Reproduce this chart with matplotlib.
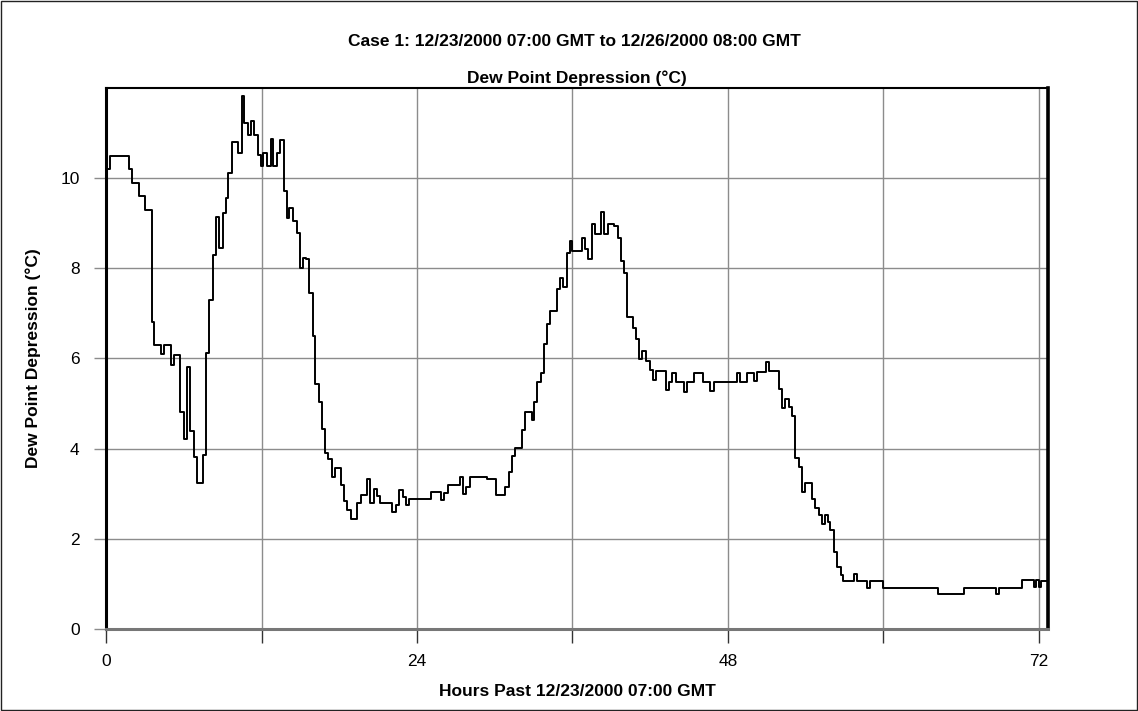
import matplotlib
matplotlib.use('Agg')
import matplotlib.pyplot as plt
from matplotlib.patches import Rectangle

plt.rcParams['font.family'] = ['Liberation Sans', 'DejaVu Sans']

# hours past 12/23/2000 07:00 GMT where the reading changes, and the reading (°C)
hours = [
    0.0, 0.3, 1.77, 2.03, 2.55, 3.0, 3.52, 3.73, 4.24, 4.47, 4.99, 5.25, 5.72, 5.99,
    6.22, 6.48, 6.79, 7.0, 7.51, 7.72, 7.97, 8.28, 8.49, 8.74, 9.0, 9.23, 9.44, 9.75,
    10.21, 10.47, 10.67, 10.98, 11.19, 11.42, 11.7, 11.93, 12.15, 12.43, 12.7, 12.92,
    13.18, 13.45, 13.7, 13.94, 14.15, 14.4, 14.72, 14.95, 15.23, 15.45, 15.68, 15.97,
    16.16, 16.41, 16.67, 16.9, 17.16, 17.42, 17.68, 18.14, 18.37, 18.57, 18.9, 19.4,
    19.65, 20.17, 20.4, 20.66, 20.91, 21.17, 22.1, 22.38, 22.63, 22.92, 23.18, 23.41,
    25.1, 25.85, 26.1, 26.36, 27.3, 27.57, 27.78, 28.09, 29.37, 30.1, 30.83, 31.07,
    31.3, 31.56, 32.07, 32.33, 32.85, 33.05, 33.3, 33.57, 33.82, 34.03, 34.3, 34.8,
    35.06, 35.3, 35.55, 35.78, 36.0, 36.73, 36.98, 37.24, 37.5, 37.74, 38.2, 38.46,
    38.71, 39.23, 39.48, 39.74, 40.0, 40.2, 40.7, 40.9, 41.15, 41.4, 41.7, 41.95,
    42.2, 42.45, 43.2, 43.45, 43.7, 43.97, 44.6, 44.86, 45.4, 46.1, 46.63, 46.93,
    48.7, 48.96, 49.47, 49.99, 50.25, 50.97, 51.2, 51.92, 52.18, 52.4, 52.7, 52.96,
    53.2, 53.47, 53.73, 53.99, 54.5, 54.76, 55.0, 55.3, 55.5, 55.7, 55.9, 56.2,
    56.45, 56.7, 56.9, 57.74, 58.0, 58.7, 58.96, 60.0, 64.2, 66.2, 68.7, 68.95,
    70.7, 71.6, 71.8, 72.0, 72.2, 72.7,
]
depression = [
    10.2, 10.5, 10.2, 9.9, 9.6, 9.3, 6.8, 6.3, 6.1, 6.3, 5.86, 6.08, 4.81, 4.21,
    5.82, 4.38, 3.82, 3.24, 3.85, 6.13, 7.3, 8.3, 9.14, 8.45, 9.24, 9.56, 10.12, 10.81,
    10.56, 11.82, 11.23, 10.96, 11.27, 10.97, 10.53, 10.27, 10.56, 10.27, 10.88, 10.27,
    10.56, 10.86, 9.71, 9.12, 9.34, 9.06, 8.79, 8.02, 8.24, 8.2, 7.46, 6.51,
    5.44, 5.04, 4.44, 3.9, 3.76, 3.37, 3.56, 3.19, 2.84, 2.63, 2.44, 2.78,
    2.96, 3.33, 2.78, 3.11, 2.94, 2.78, 2.59, 2.74, 3.09, 2.93, 2.74, 2.89,
    3.04, 2.85, 3.01, 3.19, 3.37, 3.0, 3.15, 3.36, 3.33, 2.96, 3.15, 3.48,
    3.84, 4.02, 4.42, 4.81, 4.64, 5.04, 5.47, 5.68, 6.32, 6.76, 7.05, 7.54,
    7.79, 7.59, 8.35, 8.61, 8.39, 8.68, 8.44, 8.22, 8.99, 8.76, 9.26, 8.76,
    8.99, 8.95, 8.68, 8.16, 7.89, 6.93, 6.68, 6.44, 5.99, 6.17, 5.95, 5.74,
    5.52, 5.72, 5.3, 5.48, 5.68, 5.48, 5.26, 5.48, 5.68, 5.48, 5.27, 5.48,
    5.68, 5.48, 5.68, 5.5, 5.7, 5.93, 5.73, 5.33, 4.91, 5.11, 4.93, 4.72,
    3.78, 3.59, 3.04, 3.24, 2.87, 2.68, 2.52, 2.33, 2.52, 2.37, 2.19, 1.7,
    1.37, 1.2, 1.05, 1.21, 1.05, 0.9, 1.05, 0.91, 0.76, 0.91, 0.76, 0.91,
    1.07, 0.93, 1.07, 0.93, 1.05, 1.05,
]

x_ticks = [0, 12, 24, 36, 48, 60, 72]
x_tick_labels = ['0', '', '24', '', '48', '', '72']
y_ticks = [0, 2, 4, 6, 8, 10]

fig = plt.figure(figsize=(11.38, 7.11), dpi=100)
ax = fig.add_axes([0.0932, 0.1158, 0.8276, 0.76])

ax.step(hours, depression, where='post', color='black', lw=1.4, zorder=3)

ax.set_xlim(0, 72.7)
ax.set_ylim(0, 12)
ax.set_xticks(x_ticks)
ax.set_xticklabels(x_tick_labels)
ax.set_yticks(y_ticks)
ax.grid(True, color='#8c8c8c', lw=1)
ax.set_axisbelow(True)

ax.tick_params(axis='x', direction='out', length=10, width=1, color='#333333',
               labelsize=12.5, pad=8)
ax.tick_params(axis='y', direction='out', length=9, width=1, color='#8c8c8c',
               labelsize=12.5, pad=10)

for side, lw, col in [('left', 2.2, 'black'), ('right', 2.6, 'black'),
                      ('top', 1.5, 'black'), ('bottom', 2.2, '#777777')]:
    ax.spines[side].set_linewidth(lw)
    ax.spines[side].set_color(col)

lab = dict(fontsize=12.5, fontweight='bold')
ax.set_xlabel('Hours Past 12/23/2000 07:00 GMT', labelpad=11, **lab)
ax.set_ylabel('Dew Point Depression (°C)', labelpad=14, **lab)
ax.set_title('Dew Point Depression (°C)', pad=4, **lab)
fig.text(0.505, 0.941, 'Case 1: 12/23/2000 07:00 GMT to 12/26/2000 08:00 GMT',
         ha='center', va='center', **lab)

# thin frame round the whole picture
fig.patches.append(Rectangle((0.001, 0.002), 0.998, 0.997, transform=fig.transFigure,
                             fill=False, edgecolor='#222222', lw=1))

fig.savefig('out.png', dpi=100)
